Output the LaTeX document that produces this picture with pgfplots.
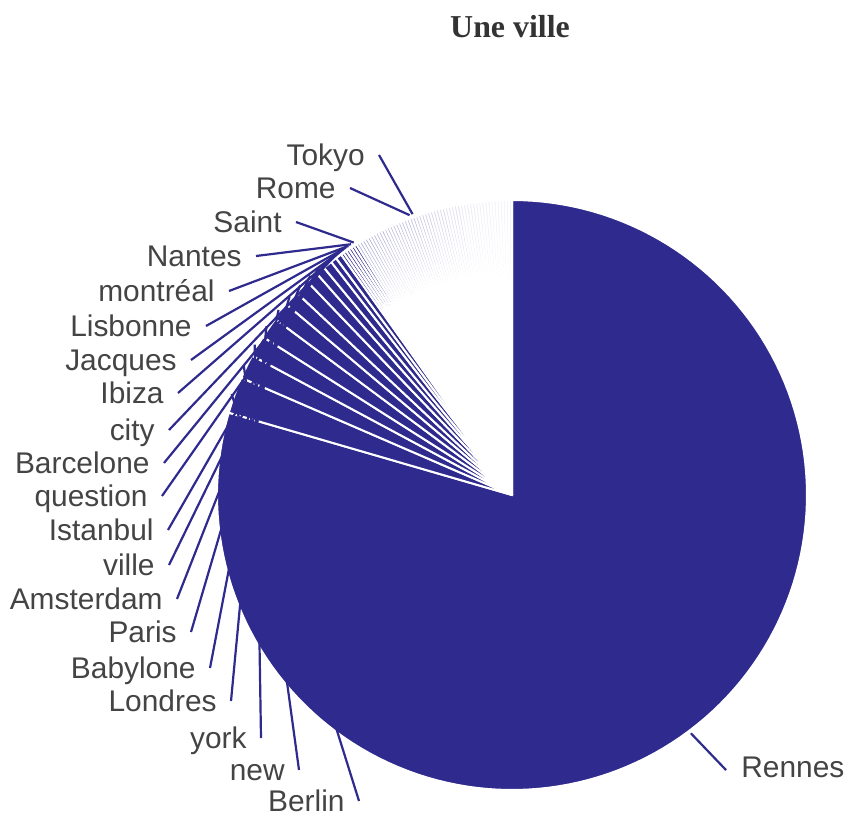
\documentclass[border=0pt]{standalone}
\usepackage{pgfplots}
\usepackage{pgfplotstable}
\pgfplotsset{compat=1.18}
\usepackage{fontspec}
\setmainfont{Liberation Sans}
\newfontfamily\titlefont{Liberation Serif}
\definecolor{pieblue}{RGB}{46,42,142}
\definecolor{labelgray}{RGB}{68,68,68}

% name, count, shade, lab (label shown), side (0 = text left of line, 1 = right), lx, ly (label anchor, px)
\pgfplotstableread[col sep=comma]{
name,count,shade,lab,side,lx,ly
Rennes,477,100,1,1,741,767
Berlin,12,100,1,0,345,801
new,8,100,1,0,285,770
york,7,100,1,0,247,738
Londres,7,100,1,0,217,701
Babylone,6,100,1,0,196,668
Paris,5,100,1,0,177,632
Amsterdam,5,100,1,0,163,599
ville,4,100,1,0,155,565
Istanbul,3,100,1,0,154,530
question,3,100,1,0,148,496
Barcelone,2,100,1,0,150,463
city,2,100,1,0,155,430
Ibiza,1,100,1,0,164,393
Jacques,1,100,1,0,177,360
Lisbonne,1,100,1,0,192,326
montréal,1,100,1,0,215,291
Nantes,1,100,1,0,242,256
Saint,1,100,1,0,282,222
x,1,40,0,0,0,0
x,1,40,0,0,0,0
x,1,40,0,0,0,0
x,1,40,0,0,0,0
x,1,40,0,0,0,0
x,1,35,0,0,0,0
x,1,35,0,0,0,0
x,1,35,0,0,0,0
x,1,35,0,0,0,0
x,1,35,0,0,0,0
x,1,30,0,0,0,0
x,1,30,0,0,0,0
x,1,30,0,0,0,0
x,1,30,0,0,0,0
x,1,30,0,0,0,0
x,1,30,0,0,0,0
x,1,30,0,0,0,0
x,1,30,0,0,0,0
x,1,30,0,0,0,0
Rome,1,30,1,0,336,188
Tokyo,1,30,1,0,365,155
x,1,25,0,0,0,0
x,1,25,0,0,0,0
x,1,25,0,0,0,0
x,1,25,0,0,0,0
x,1,25,0,0,0,0
x,1,20,0,0,0,0
x,1,20,0,0,0,0
x,1,20,0,0,0,0
x,1,20,0,0,0,0
x,1,20,0,0,0,0
x,1,15,0,0,0,0
x,1,15,0,0,0,0
x,1,15,0,0,0,0
x,1,15,0,0,0,0
x,1,15,0,0,0,0
x,1,10,0,0,0,0
x,1,10,0,0,0,0
x,1,10,0,0,0,0
x,1,10,0,0,0,0
x,1,10,0,0,0,0
x,1,8,0,0,0,0
x,1,8,0,0,0,0
x,1,8,0,0,0,0
x,1,8,0,0,0,0
x,1,8,0,0,0,0
x,1,6,0,0,0,0
x,1,6,0,0,0,0
x,1,6,0,0,0,0
x,1,6,0,0,0,0
x,1,6,0,0,0,0
x,1,6,0,0,0,0
x,1,6,0,0,0,0
}\piedata

\begin{document}
\begin{tikzpicture}
\begin{axis}[
  width=422.5bp, height=408bp, scale only axis,
  xmin=0, xmax=845, ymin=0, ymax=816, y dir=reverse,
  hide axis, clip=false,
]
\pgfplotstablegetrowsof{\piedata}
\pgfmathtruncatemacro\lastrow{\pgfplotsretval-1}
% slices (total count 600, 0.6 degree per count, clockwise from 12 o'clock)
\gdef\cum{0}
\pgfplotsforeachungrouped \i in {0,...,\lastrow}{%
  \pgfplotstablegetelem{\i}{count}\of\piedata \let\cnt\pgfplotsretval
  \pgfplotstablegetelem{\i}{shade}\of\piedata \let\shd\pgfplotsretval
  \pgfmathsetmacro\a{90-\cum*0.6}%
  \pgfmathsetmacro\cum{\cum+\cnt}%
  \pgfmathsetmacro\b{90-\cum*0.6}%
  \pgfmathtruncatemacro\ns{max(2,\cnt*0.3+2)}%
  \edef\temp{\noexpand\addplot[fill=pieblue!\shd, draw=white, line width=1bp, line join=round, domain=\b:\a, samples=\ns] ({512+295*cos(x)},{495-295*sin(x)}) -- (axis cs:512,495) -- cycle;}%
  \temp
}
% leader lines and labels
\gdef\cum{0}
\pgfplotsforeachungrouped \i in {0,...,\lastrow}{%
  \pgfplotstablegetelem{\i}{count}\of\piedata \let\cnt\pgfplotsretval
  \pgfplotstablegetelem{\i}{lab}\of\piedata \let\lab\pgfplotsretval
  \pgfplotstablegetelem{\i}{side}\of\piedata \let\side\pgfplotsretval
  \pgfplotstablegetelem{\i}{lx}\of\piedata \let\lx\pgfplotsretval
  \pgfplotstablegetelem{\i}{ly}\of\piedata \let\ly\pgfplotsretval
  \pgfplotstablegetelem{\i}{name}\of\piedata \let\nm\pgfplotsretval
  \pgfmathsetmacro\mid{90-(\cum+\cnt/2)*0.6}%
  \pgfmathsetmacro\cum{\cum+\cnt}%
  \ifnum\lab=1
    \pgfmathsetmacro\tx{512+298*cos(\mid)}%
    \pgfmathsetmacro\ty{495-298*sin(\mid)}%
    \ifnum\side=1
      \pgfmathsetmacro\sx{\lx-15}%
      \edef\temp{\noexpand\addplot[pieblue, line width=1.1bp] coordinates {(\sx,\ly+3) (\tx,\ty)};
        \noexpand\node[anchor=base west, yshift=-5bp, inner sep=0pt, text=labelgray, font=\noexpand\fontsize{15}{18}\noexpand\selectfont] at (axis cs:\lx,\ly) {\nm};}%
    \else
      \pgfmathsetmacro\sx{\lx+14}%
      \edef\temp{\noexpand\addplot[pieblue, line width=1.1bp] coordinates {(\sx,\ly) (\tx,\ty)};
        \noexpand\node[anchor=base east, yshift=-5bp, inner sep=0pt, text=labelgray, font=\noexpand\fontsize{15}{18}\noexpand\selectfont] at (axis cs:\lx,\ly) {\nm};}%
    \fi
    \temp
  \fi
}
\node[anchor=center, text=black!80, font=\titlefont\bfseries\fontsize{16}{19}\selectfont] at (axis cs:510,27) {Une ville};
\end{axis}
\pgfresetboundingbox
\path[use as bounding box] (current axis.south west) rectangle (current axis.north east);
\end{tikzpicture}
\end{document}
